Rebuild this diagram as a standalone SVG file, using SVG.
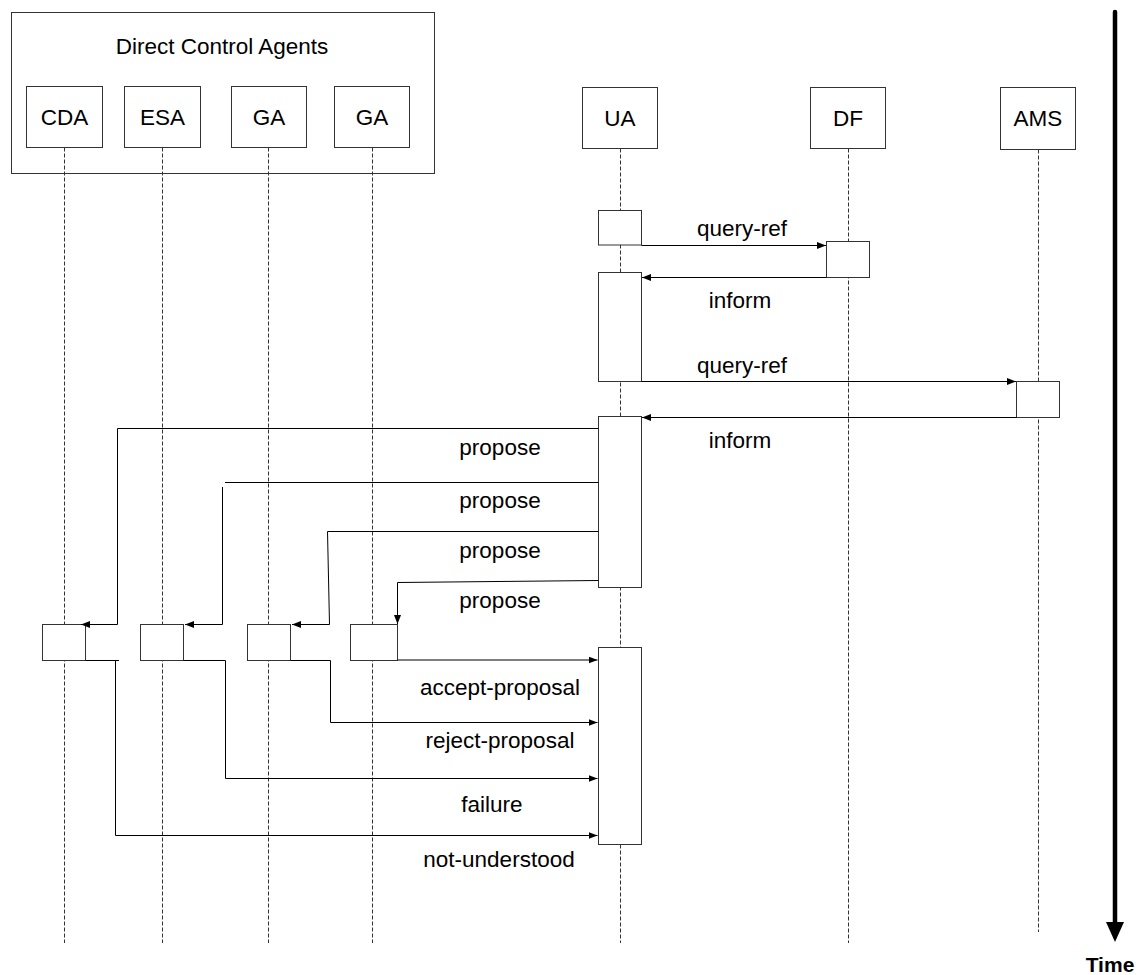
<svg xmlns="http://www.w3.org/2000/svg" width="1140" height="975" viewBox="0 0 1140 975">
<style>
.box{fill:#fff;stroke:#333;stroke-width:1}
.act{fill:#fff;stroke:#333;stroke-width:1}
.life{stroke:#333;stroke-width:1;stroke-dasharray:4,2;fill:none}
.t{font-family:"Liberation Sans",Arial,Helvetica,sans-serif;font-size:22.5px;fill:#000;text-anchor:middle}
.msg{fill:none;stroke:#000;stroke-width:1}
.arr{marker-end:url(#ah)}
</style>
<defs>
<marker id="ah" markerUnits="userSpaceOnUse" markerWidth="10" markerHeight="8" refX="9" refY="3.5" orient="auto">
<path d="M0,0 L9,3.5 L0,7 z" fill="#000"/>
</marker>
</defs>
<rect width="1140" height="975" fill="#fff"/>
<g id="direct-control-agents">
<rect class="box" x="11.5" y="12.5" width="423" height="161"/>
<text class="t" x="222" y="54">Direct Control Agents</text>
</g>
<g id="lifelines">
<line class="life" x1="64.5" y1="147.5" x2="64.5" y2="943"/>
<line class="life" x1="162.5" y1="147.5" x2="162.5" y2="943"/>
<line class="life" x1="268.5" y1="147.5" x2="268.5" y2="943"/>
<line class="life" x1="372.5" y1="147.5" x2="372.5" y2="943"/>
<line class="life" x1="620.5" y1="148.5" x2="620.5" y2="943"/>
<line class="life" x1="848.5" y1="148.5" x2="848.5" y2="943"/>
<line class="life" x1="1038.5" y1="149.5" x2="1038.5" y2="932"/>
</g>
<g id="cda"><rect class="box" x="26.5" y="86.5" width="76" height="61"/><text class="t" x="64.5" y="124.5">CDA</text></g>
<g id="esa"><rect class="box" x="124.5" y="86.5" width="76" height="61"/><text class="t" x="162.5" y="124.5">ESA</text></g>
<g id="ga1"><rect class="box" x="231.5" y="86.5" width="75" height="61"/><text class="t" x="269" y="124.5">GA</text></g>
<g id="ga2"><rect class="box" x="334.5" y="86.5" width="75" height="61"/><text class="t" x="372" y="124.5">GA</text></g>
<g id="ua"><rect class="box" x="582.5" y="87.5" width="75" height="61"/><text class="t" x="620" y="125.5">UA</text></g>
<g id="df"><rect class="box" x="810.5" y="87.5" width="75" height="61"/><text class="t" x="848" y="125.5">DF</text></g>
<g id="ams"><rect class="box" x="1000.5" y="87.5" width="75" height="62"/><text class="t" x="1038" y="126">AMS</text></g>
<g id="activations">
<rect class="act" x="598.5" y="210.5" width="43" height="34.5"/>
<rect class="act" x="826.5" y="241.5" width="43" height="36"/>
<rect class="act" x="598.5" y="272.5" width="43" height="109"/>
<rect class="act" x="1016.5" y="381.5" width="43" height="36"/>
<rect class="act" x="598.5" y="416.5" width="43" height="171"/>
<rect class="act" x="598.5" y="647.5" width="43" height="197"/>
<rect class="act" x="42.5" y="624.5" width="43" height="36"/>
<rect class="act" x="140.5" y="624.5" width="43" height="36"/>
<rect class="act" x="247.5" y="624.5" width="43" height="36"/>
<rect class="act" x="350.5" y="624.5" width="47" height="36"/>
</g>
<g id="connectors">
<path class="msg arr" d="M641.5,245.5 H826"/>
<path class="msg arr" d="M826.5,277.5 H642"/>
<path class="msg arr" d="M641.5,381.5 H1016"/>
<path class="msg arr" d="M1016.5,417.5 H642"/>
<path class="msg arr" d="M598.5,428.5 H117.5 V624.5 H81"/>
<path class="msg" d="M598.5,482.5 H225"/>
<path class="msg arr" d="M222.5,487 V624.5 H185"/>
<path class="msg arr" d="M598.5,531.5 H327.5 L329.5,624.5 H292"/>
<path class="msg arr" d="M598.5,580.5 L397.5,582.5 V624"/>
<path class="msg arr" d="M397.5,660 H597.5"/>
<path class="msg arr" d="M290.5,660.5 H330.5 V722.5 H597.5"/>
<path class="msg arr" d="M183.5,660.5 H225.5 V778.5 H597.5"/>
<path class="msg" d="M85.5,660.5 H119"/>
<path class="msg arr" d="M115.5,660.5 V835.5 H597.5"/>
<text class="t" x="742" y="236">query-ref</text>
<text class="t" x="740" y="308">inform</text>
<text class="t" x="742" y="373">query-ref</text>
<text class="t" x="740" y="448">inform</text>
<text class="t" x="500" y="455">propose</text>
<text class="t" x="500" y="508">propose</text>
<text class="t" x="500" y="558">propose</text>
<text class="t" x="500" y="608">propose</text>
<text class="t" x="500" y="695">accept-proposal</text>
<text class="t" x="500" y="748">reject-proposal</text>
<text class="t" x="492" y="812">failure</text>
<text class="t" x="499" y="867">not-understood</text>
</g>
<g id="time-axis">
<line x1="1115" y1="12" x2="1115" y2="924" stroke="#000" stroke-width="4.5" stroke-linecap="round"/>
<polygon points="1106,922 1124,922 1115,942" fill="#000"/>
<text x="1110" y="972" font-family="Liberation Sans,Arial,Helvetica,sans-serif" font-size="21" font-weight="bold" text-anchor="middle">Time</text>
</g>
</svg>
